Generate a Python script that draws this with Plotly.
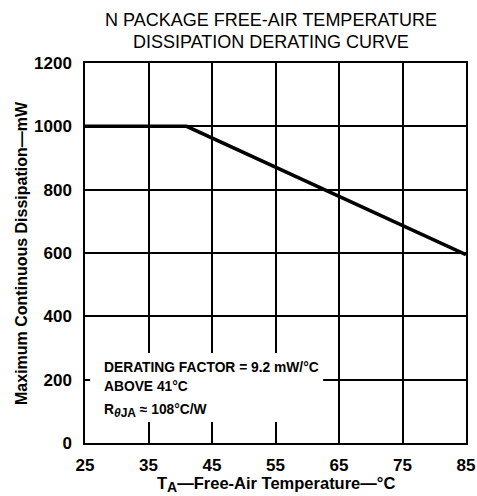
import plotly.graph_objects as go

temps = [25, 41, 85]
dissipation = [1000, 1000, 595]
x_ticks = [25, 35, 45, 55, 65, 75, 85]
y_ticks = [0, 200, 400, 600, 800, 1000, 1200]
title_lines = ["N PACKAGE FREE-AIR TEMPERATURE", "DISSIPATION DERATING CURVE"]

FONT = "Liberation Sans, Arial, Helvetica, sans-serif"

fig = go.Figure()
fig.add_trace(go.Scatter(x=temps, y=dissipation, mode="lines",
                         line=dict(color="black", width=3.5), hoverinfo="skip",
                         showlegend=False))

# white box behind the note
fig.add_shape(type="rect", xref="x", yref="y", x0=25.8, x1=62.5, y0=66, y1=284,
              fillcolor="white", line=dict(width=0), layer="above")

note_lines = [
    ("DERATING FACTOR = 9.2 mW/°C", 237),
    ("ABOVE 41°C", 180),
    ("R<sub><span style='font-size:12px'><i>θ</i>JA</span></sub> ≈ 108°C/W", 100),
]
for txt, yv in note_lines:
    fig.add_annotation(x=27.6, y=yv, xref="x", yref="y", text=txt, showarrow=False,
                       xanchor="left", yanchor="middle",
                       font=dict(family=FONT, size=13.8, color="black", weight="bold"))

for txt, yv in zip(title_lines, [1.113, 1.055]):
    fig.add_annotation(x=0.489, y=yv, xref="paper", yref="paper", text=txt,
                       showarrow=False, xanchor="center", yanchor="middle",
                       font=dict(family=FONT, size=18, color="black"))

fig.add_annotation(x=0.5, y=-0.11, xref="paper", yref="paper",
                   text="T<sub><span style='font-size:14px'>A</span></sub>—Free-Air Temperature—°C",
                   showarrow=False, xanchor="center", yanchor="middle",
                   font=dict(family=FONT, size=16.5, color="black", weight="bold"))
fig.add_annotation(x=-0.168, y=0.5, xref="paper", yref="paper",
                   text="Maximum Continuous Dissipation—mW", showarrow=False,
                   textangle=-90, xanchor="center", yanchor="middle",
                   font=dict(family=FONT, size=16, color="black", weight="bold"))

fig.update_layout(
    width=477, height=496,
    margin=dict(l=85, r=11, t=63, b=53, autoexpand=False),
    paper_bgcolor="white", plot_bgcolor="white",
    xaxis=dict(range=[25, 85], tickvals=x_ticks, ticktext=[str(v) for v in x_ticks],
               showgrid=True, gridcolor="black", gridwidth=1.5, zeroline=False,
               showline=True, linecolor="black", linewidth=1.5, mirror=True,
               ticks="", ticklabelstandoff=6, automargin=False,
               tickfont=dict(family=FONT, size=17, color="black", weight="bold")),
    yaxis=dict(range=[0, 1200], tickvals=y_ticks, ticktext=[str(v) for v in y_ticks],
               showgrid=True, gridcolor="black", gridwidth=1.5, zeroline=False,
               showline=True, linecolor="black", linewidth=1.5, mirror=True,
               ticks="", ticklabelstandoff=8, automargin=False,
               tickfont=dict(family=FONT, size=17, color="black", weight="bold")),
)

fig.write_html("out.html", config={"displayModeBar": False},
               post_script="document.body.style.margin='0';document.body.style.padding='0';")
